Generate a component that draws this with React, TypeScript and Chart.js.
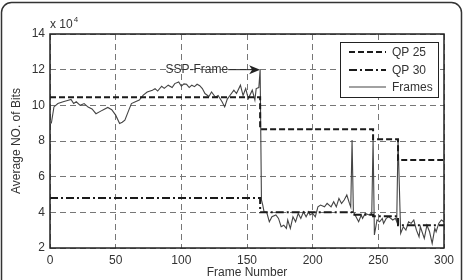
import React, { useEffect, useRef } from "react";
import { Chart, registerables } from "chart.js";

Chart.register(...registerables);

const frameNumbers = [
  1, 3, 6, 10, 14, 16, 18, 20, 23, 26, 29, 32, 35, 39, 41, 44, 47, 50, 53, 55, 57, 60, 62, 65, 68, 71, 74, 78,
  80, 82, 85, 87, 90, 93, 95, 98, 100, 102, 104, 106, 108, 110, 112, 114, 116, 118, 121, 123, 126, 128, 131,
  133, 135, 137, 140, 142, 145, 147, 149, 151, 154, 156, 157, 159, 160, 161, 162, 163, 165, 167, 169, 172, 174,
  176, 178, 180, 181, 183, 185, 187, 189, 191, 193, 195, 197, 198, 200, 202, 204, 206, 209, 211, 214, 216, 218,
  220, 222, 224, 226, 228, 229, 230, 231, 233, 235, 237, 238, 240, 243, 245, 246, 247, 249, 251, 253, 254, 256,
  258, 261, 263, 264, 265, 267, 269, 271, 273, 275, 277, 279, 281, 282, 285, 287, 289, 291, 293, 294, 296, 298,
  300,
];
const frameBits = [
  8.98, 9.91, 10.1, 10.2, 10.29, 10.33, 10.1, 10.2, 10.0, 10.1, 9.9, 9.8, 9.53, 9.69, 9.77, 9.88, 9.75, 9.45,
  8.98, 9.05, 9.17, 9.73, 10.1, 10.2, 10.3, 10.57, 10.75, 10.85, 10.94, 10.8, 11.07, 10.95, 11.13, 11.0, 11.22,
  11.31, 11.07, 11.2, 11.18, 11.0, 11.13, 11.05, 11.18, 11.1, 10.94, 10.66, 10.5, 10.75, 10.45, 10.55, 10.2,
  9.91, 10.35, 10.55, 10.85, 10.66, 11.13, 10.55, 10.94, 10.38, 10.85, 10.3, 10.94, 11.0, 12.0, 4.7, 4.41, 4.03,
  4.0, 3.47, 3.75, 3.85, 3.66, 3.19, 3.28, 3.1, 3.57, 3.1, 3.75, 3.47, 3.94, 3.66, 4.03, 3.75, 4.03, 3.85, 3.94,
  3.75, 4.31, 4.41, 4.31, 4.5, 4.31, 4.6, 4.31, 4.78, 4.5, 4.69, 4.97, 4.5, 4.3, 8.05, 4.03, 3.75, 3.47, 3.85,
  3.66, 3.94, 3.85, 3.94, 8.1, 2.73, 3.57, 3.47, 3.66, 3.38, 3.66, 3.75, 3.57, 3.66, 3.47, 8.1, 2.82, 3.19, 3.0,
  3.47, 3.38, 3.57, 3.0, 2.63, 3.19, 2.54, 3.28, 2.91, 2.26, 3.1, 2.91, 3.38, 3.57, 3.47,
];

const qp25Frames = [0, 160, 246, 265, 300];
const qp25Bits = [10.45, 8.66, 8.1, 6.93, 6.93];
const qp30Frames = [0, 160, 230, 246, 265, 300];
const qp30Bits = [4.8, 4.0, 3.87, 3.78, 3.28, 3.28];

const xTicks = [0, 50, 100, 150, 200, 250, 300];
const yTicks = [2, 4, 6, 8, 10, 12, 14];
const legendLabels = ["QP 25", "QP 30", "Frames"];
const annotationText = "SSP-Frame";
const annotationFrame = 160;
const annotationBits = 12;

const FONT = "'Liberation Sans', Arial, sans-serif";

const toPoints = (xs: number[], ys: number[]) => xs.map((x, i) => ({ x, y: ys[i] }));

const overlayPlugin = {
  id: "overlay",
  afterDraw(chart: any) {
    const { ctx, chartArea: a, scales } = chart;
    const xs = scales.x;
    const ys = scales.y;
    ctx.save();
    ctx.setLineDash([]);
    ctx.strokeStyle = "#222";
    ctx.lineWidth = 1.5;
    ctx.strokeRect(a.left, a.top, a.right - a.left, a.bottom - a.top);

    const tipX = xs.getPixelForValue(annotationFrame);
    const tipY = ys.getPixelForValue(annotationBits);
    ctx.font = `12px ${FONT}`;
    ctx.fillStyle = "#333";
    ctx.textBaseline = "middle";
    ctx.textAlign = "right";
    const textRight = tipX - 32;
    ctx.fillText(annotationText, textRight, tipY);
    ctx.strokeStyle = "#222";
    ctx.lineWidth = 1;
    ctx.beginPath();
    ctx.moveTo(textRight, tipY);
    ctx.lineTo(tipX - 8, tipY);
    ctx.stroke();
    ctx.fillStyle = "#222";
    ctx.beginPath();
    ctx.moveTo(tipX, tipY);
    ctx.lineTo(tipX - 11, tipY - 4.5);
    ctx.lineTo(tipX - 8, tipY);
    ctx.lineTo(tipX - 11, tipY + 4.5);
    ctx.closePath();
    ctx.fill();

    const lx = 340, ly = 42, lw = 98, lh = 55;
    ctx.fillStyle = "#fff";
    ctx.fillRect(lx, ly, lw, lh);
    ctx.strokeStyle = "#222";
    ctx.lineWidth = 1;
    ctx.setLineDash([]);
    ctx.strokeRect(lx + 0.5, ly + 0.5, lw, lh);
    const ds = chart.data.datasets;
    const rows = [52, 70, 87];
    rows.forEach((ry: number, i: number) => {
      const d = ds[i];
      ctx.strokeStyle = d.borderColor;
      ctx.lineWidth = d.borderWidth;
      ctx.setLineDash(d.borderDash || []);
      ctx.beginPath();
      ctx.moveTo(349, ry);
      ctx.lineTo(386, ry);
      ctx.stroke();
      ctx.setLineDash([]);
      ctx.fillStyle = "#333";
      ctx.font = `12px ${FONT}`;
      ctx.textAlign = "left";
      ctx.textBaseline = "middle";
      ctx.fillText(legendLabels[i], 392, ry + 0.5);
    });

    ctx.fillStyle = "#333";
    ctx.font = `12px ${FONT}`;
    ctx.textAlign = "center";
    ctx.textBaseline = "middle";
    ctx.fillText("Frame Number", (a.left + a.right) / 2, 273);
    ctx.save();
    ctx.translate(17, (a.top + a.bottom) / 2);
    ctx.rotate(-Math.PI / 2);
    ctx.fillText("Average NO. of Bits", 0, 0);
    ctx.restore();

    ctx.textAlign = "left";
    ctx.textBaseline = "alphabetic";
    ctx.font = `12px ${FONT}`;
    ctx.fillText("x 10", a.left, 28);
    const w = ctx.measureText("x 10").width;
    ctx.font = `8px ${FONT}`;
    ctx.fillText("4", a.left + w + 1, 22);

    ctx.strokeStyle = "#333";
    ctx.lineWidth = 1.5;
    ctx.beginPath();
    (ctx as any).roundRect(1.5, 2.5, 460, 300, 10);
    ctx.stroke();
    ctx.restore();
  },
};

export default function App() {
  const ref = useRef<HTMLCanvasElement>(null);
  useEffect(() => {
    document.body.style.margin = "0";
    const chart = new Chart(ref.current as HTMLCanvasElement, {
      type: "line",
      data: {
        datasets: [
          {
            label: legendLabels[0],
            data: toPoints(qp25Frames, qp25Bits),
            borderColor: "#1a1a1a",
            borderWidth: 2,
            borderDash: [6, 3],
            stepped: "before",
            pointRadius: 0,
            fill: false,
          },
          {
            label: legendLabels[1],
            data: toPoints(qp30Frames, qp30Bits),
            borderColor: "#1a1a1a",
            borderWidth: 2,
            borderDash: [8, 3, 2, 3],
            stepped: "before",
            pointRadius: 0,
            fill: false,
          },
          {
            label: legendLabels[2],
            data: toPoints(frameNumbers, frameBits),
            borderColor: "#444",
            borderWidth: 1.1,
            pointRadius: 0,
            tension: 0,
            fill: false,
          },
        ],
      },
      options: {
        animation: false,
        responsive: false,
        maintainAspectRatio: false,
        layout: { padding: { top: 34, right: 21, left: 0, bottom: 0 } },
        plugins: { legend: { display: false }, tooltip: { enabled: false } },
        scales: {
          x: {
            type: "linear",
            min: 0,
            max: 300,
            afterFit: (s: any) => {
              s.height = 32;
            },
            afterBuildTicks: (s: any) => {
              s.ticks = xTicks.map((v) => ({ value: v }));
            },
            ticks: { font: { family: FONT, size: 12 }, color: "#333", padding: 5, maxRotation: 0 },
            grid: { color: "#777", lineWidth: 1, drawTicks: false },
            border: { display: false, dash: [6, 4] },
          },
          y: {
            type: "linear",
            min: 2,
            max: 14,
            afterFit: (s: any) => {
              s.width = 50;
            },
            afterBuildTicks: (s: any) => {
              s.ticks = yTicks.map((v) => ({ value: v }));
            },
            ticks: { font: { family: FONT, size: 12 }, color: "#333", padding: 5 },
            grid: { color: "#777", lineWidth: 1, drawTicks: false },
            border: { display: false, dash: [6, 4] },
          },
        },
      },
      plugins: [overlayPlugin],
    } as any);
    return () => chart.destroy();
  }, []);
  return (
    <div style={{ width: 465, height: 280 }}>
      <canvas ref={ref} width={465} height={280} />
    </div>
  );
}
